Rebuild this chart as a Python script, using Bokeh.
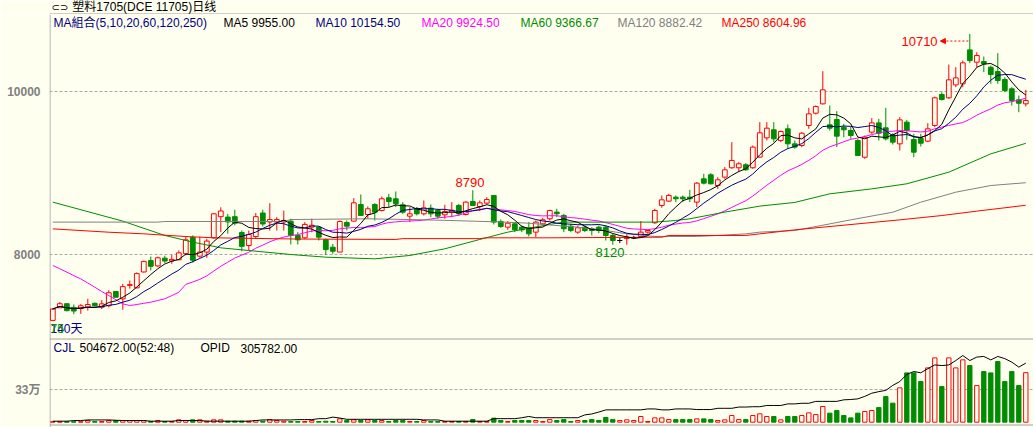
from bokeh.plotting import figure
from bokeh.layouts import column
from bokeh.models import Range1d, LinearAxis, FixedTicker, Label, Span, Grid, ColumnDataSource, Arrow, NormalHead
from bokeh.embed import file_html
from bokeh.resources import INLINE
import pandas as pd

# ---------------- data ----------------
opens = [7190, 7345, 7395, 7350, 7335, 7355, 7400, 7352, 7370, 7545,
         7455, 7620, 7590, 7785, 7925, 7860, 7955, 7920, 7935, 8010,
         8210, 7980, 8030, 8205, 8465, 8460, 8465, 8270, 8110, 8220,
         8510, 8400, 8398, 8400, 8410, 8235, 8205, 8336, 8336, 8180,
         8090, 8030, 8393, 8410, 8615, 8492, 8615, 8541, 8697, 8685,
         8611, 8471, 8566, 8500, 8570, 8541, 8488, 8520, 8603, 8492,
         8652, 8590, 8631, 8726, 8406, 8336, 8377, 8336, 8328, 8275,
         8377, 8439, 8521, 8480, 8349, 8275, 8336, 8316, 8336, 8336,
         8234, 8172, 8196, 8205, 8222, 8275, 8390, 8603, 8656, 8705,
         8705, 8705, 8644, 8930, 8980, 8848, 8951, 9066, 9066, 9103,
         9066, 9197, 9434, 9533, 9402, 9545, 9360, 9340, 9586, 9737,
         9852, 9594, 9659, 9565, 9524, 9401, 9196, 9504, 9618, 9557,
         9471, 9360, 9627, 9413, 9430, 9393, 9586, 9966, 9926, 10085,
         10098, 10515, 10364, 10372, 10302, 10249, 10151, 10036, 9901, 9852]
highs = [7340, 7415, 7400, 7385, 7390, 7455, 7410, 7440, 7560, 7550,
         7640, 7680, 7780, 7925, 7975, 7975, 7985, 7995, 8050, 8220,
         8235, 8220, 8193, 8510, 8580, 8500, 8550, 8295, 8295, 8510,
         8550, 8630, 8460, 8540, 8440, 8275, 8398, 8440, 8345, 8193,
         8130, 8418, 8418, 8693, 8738, 8590, 8631, 8713, 8746, 8775,
         8644, 8582, 8582, 8664, 8615, 8562, 8611, 8644, 8623, 8656,
         8790, 8664, 8705, 8726, 8430, 8410, 8398, 8357, 8398, 8418,
         8451, 8550, 8562, 8500, 8377, 8357, 8357, 8336, 8357, 8357,
         8254, 8205, 8254, 8230, 8410, 8303, 8562, 8726, 8746, 8726,
         8726, 8795, 8890, 8992, 9000, 8951, 9074, 9381, 9135, 9123,
         9340, 9627, 9627, 9627, 9524, 9598, 9402, 9504, 9803, 9831,
         10253, 9831, 9762, 9606, 9573, 9422, 9463, 9676, 9667, 9803,
         9491, 9688, 9655, 9483, 9483, 9614, 9942, 9995, 10335, 10302,
         10384, 10710, 10487, 10434, 10323, 10475, 10180, 10057, 9954, 10024]
lows = [7180, 7340, 7300, 7265, 7270, 7310, 7360, 7330, 7350, 7470,
        7320, 7580, 7585, 7780, 7805, 7845, 7895, 7885, 7930, 7990,
        7900, 7960, 7960, 8193, 8275, 8255, 8357, 8040, 8050, 8193,
        8345, 8295, 8295, 8295, 8123, 8123, 8193, 8275, 8172, 7995,
        8008, 8029, 8295, 8406, 8480, 8440, 8418, 8529, 8582, 8582,
        8500, 8398, 8480, 8480, 8459, 8439, 8439, 8459, 8480, 8480,
        8603, 8533, 8615, 8369, 8328, 8303, 8275, 8275, 8221, 8213,
        8369, 8418, 8459, 8275, 8275, 8254, 8275, 8234, 8262, 8172,
        8120, 8140, 8120, 8190, 8213, 8254, 8377, 8574, 8644, 8644,
        8644, 8644, 8582, 8861, 8861, 8807, 8930, 9054, 9013, 9033,
        9054, 9189, 9402, 9381, 9381, 9299, 9300, 9319, 9545, 9721,
        9844, 9524, 9320, 9442, 9422, 9217, 9176, 9483, 9401, 9401,
        9352, 9278, 9410, 9196, 9327, 9381, 9565, 9893, 9913, 10057,
        10057, 10352, 10302, 10241, 10098, 10098, 9995, 9831, 9749, 9819]
closes = [7330, 7395, 7310, 7305, 7370, 7385, 7370, 7393, 7530, 7475,
          7605, 7630, 7765, 7915, 7855, 7960, 7920, 7940, 8020, 8180,
          7930, 8030, 8165, 8500, 8535, 8400, 8385, 8100, 8245, 8465,
          8375, 8430, 8430, 8418, 8235, 8180, 8370, 8360, 8213, 8060,
          8040, 8405, 8348, 8635, 8480, 8562, 8520, 8685, 8652, 8623,
          8520, 8500, 8500, 8574, 8500, 8471, 8529, 8545, 8500, 8644,
          8603, 8635, 8676, 8398, 8344, 8385, 8303, 8303, 8254, 8398,
          8426, 8541, 8500, 8316, 8295, 8328, 8295, 8295, 8295, 8234,
          8172, 8172, 8213, 8205, 8275, 8295, 8541, 8672, 8726, 8685,
          8685, 8685, 8877, 8877, 8869, 8918, 9041, 9156, 9115, 9041,
          9320, 9496, 9553, 9422, 9512, 9361, 9320, 9491, 9729, 9819,
          10024, 9553, 9455, 9533, 9463, 9217, 9442, 9618, 9491, 9422,
          9381, 9655, 9524, 9258, 9368, 9545, 9926, 9905, 10147, 10171,
          10356, 10384, 10446, 10343, 10212, 10139, 10016, 9893, 9860, 9893]
# volume (CJL), contracts
volumes = [5000, 5000, 5000, 5000, 5000, 17000, 7000, 7000, 17000, 17000,
           17000, 17000, 17000, 17000, 7000, 17000, 7000, 7000, 24000, 17000,
           24000, 24000, 10000, 24000, 24000, 10000, 10000, 10000, 10000, 17000,
           10000, 27000, 17000, 10000, 7000, 7000, 7000, 17000, 7000, 10000,
           7000, 34000, 17000, 24000, 17000, 24000, 17000, 17000, 7000, 17000,
           17000, 7000, 7000, 17000, 7000, 7000, 7000, 7000, 7000, 7000,
           27000, 7000, 7000, 41000, 17000, 7000, 17000, 17000, 17000, 17000,
           7000, 27000, 17000, 27000, 7000, 17000, 17000, 27000, 17000, 48000,
           27000, 17000, 24000, 17000, 58000, 7000, 44000, 44000, 27000, 27000,
           27000, 27000, 34000, 34000, 27000, 17000, 24000, 68000, 27000, 27000,
           68000, 85000, 58000, 58000, 24000, 58000, 58000, 68000, 95000, 78000,
           160000, 92000, 119000, 68000, 44000, 92000, 109000, 119000, 149000, 261000,
           194000, 350000, 502000, 502000, 414000, 553000, 655000, 363000, 655000, 553000,
           635000, 577000, 373000, 516000, 502000, 618000, 414000, 516000, 373000, 504672]
# open interest (OPID)
opid = [121000, 121000, 121000, 123000, 123000, 125000, 125000, 125000, 125000, 124000,
        123000, 123000, 123000, 123000, 121000, 121000, 121000, 121000, 123000, 123000,
        123000, 123000, 121000, 121000, 121000, 121000, 121000, 121000, 121000, 123000,
        125000, 125000, 125000, 125000, 125000, 126000, 126000, 126000, 129000, 129000,
        134000, 131000, 127000, 127000, 127000, 127000, 127000, 127000, 127000, 127000,
        127000, 127000, 127000, 125000, 125000, 125000, 121000, 121000, 121000, 121000,
        121000, 121000, 121000, 129000, 129000, 129000, 129000, 132000, 136000, 132000,
        132000, 132000, 132000, 132000, 132000, 132000, 141000, 144000, 150000, 157000,
        157000, 157000, 157000, 157000, 157000, 160000, 160000, 157000, 157000, 160000,
        160000, 160000, 158000, 158000, 158000, 162000, 162000, 162000, 166000, 166000,
        167000, 167000, 171000, 171000, 171000, 176000, 176000, 178000, 178000, 184000,
        184000, 184000, 184000, 189000, 190000, 192000, 200000, 210000, 215000, 219000,
        235000, 247000, 270000, 279000, 275000, 288000, 300000, 298000, 300000, 314000,
        330000, 314000, 325000, 327000, 316000, 327000, 320000, 309000, 293000, 305782]
# MA20 for the first 19 days (needs history before the window)
ma20_head = [7865, 7825, 7783, 7740, 7700, 7650, 7598, 7545, 7495, 7445,
             7393, 7373, 7385, 7400, 7414, 7435, 7455, 7495, 7536]
# long moving averages, read at sample days
ma60_idx = [0, 10, 16, 20, 24, 28, 34, 39, 46, 51, 56, 61, 65, 71, 73, 86, 89, 91, 96, 101, 106, 111, 117, 122, 128, 134, 139]
ma60_val = [8644, 8410, 8234, 8152, 8082, 8049, 8000, 7967, 7947, 7988, 8070, 8185, 8275, 8370, 8398, 8398, 8418, 8439, 8521, 8595, 8640, 8746, 8807, 8869, 9012, 9237, 9366.67]
ma120_idx = [0, 15, 16, 33, 34, 45, 51, 56, 60, 64, 68, 70, 75, 79, 82, 86, 92, 95, 99, 101, 106, 110, 114, 120, 124, 129, 134, 139]
ma120_val = [8398, 8398, 8406, 8406, 8430, 8439, 8430, 8420, 8410, 8400, 8385, 8370, 8336, 8295, 8254, 8222, 8222, 8234, 8254, 8275, 8295, 8360, 8426, 8520, 8643, 8766, 8848, 8882.42]
ma250_idx = [0, 8, 13, 19, 23, 35, 49, 50, 61, 62, 71, 87, 88, 99, 101, 104, 106, 121, 127, 132, 139]
ma250_val = [8315, 8274, 8254, 8221, 8205, 8190, 8185, 8195, 8195, 8205, 8205, 8213, 8234, 8234, 8254, 8283, 8303, 8426, 8479, 8533, 8604.96]

title_text = "塑料1705(DCE 11705)日线"
legend_items = [("MA組合(5,10,20,60,120,250)", "#000080"), ("MA5 9955.00", "#000000"),
                ("MA10 10154.50", "#000080"), ("MA20 9924.50", "#FF00FF"),
                ("MA60 9366.67", "#008C00"), ("MA120 8882.42", "#808080"),
                ("MA250 8604.96", "#FF0000")]
price_ticks = [8000, 10000]
vol_tick = 330000
vol_tick_label = "33万"

# ---------------- layout helpers ----------------
BG = "#FFFFF0"
RED = "#FF0000"
GREEN = "#008C00"
FONT = "Liberation Sans, Noto Sans CJK SC"
W = 1033
HEAD_H = 14
H = 427 - HEAD_H
LEFT = 49
FW = W - LEFT
BAR_PX = 7.0
X0_PX = 3.3
x_start = -X0_PX / BAR_PX
x_end = x_start + FW / BAR_PX

PY_REF, PY_SCALE = 77.3, 0.08135         # figure px of 10000, px per price unit
def price_at(fy):
    return 10000 - (fy - PY_REF) / PY_SCALE
VOL_BASE, VOL_PER_PX = 407.7, 10185.0
def vol_at(fy):
    return (VOL_BASE - fy) * VOL_PER_PX
def vol_fy(v):
    return VOL_BASE - v / VOL_PER_PX
OI_BASE, OI_MIN, OI_PER_PX = 407.0, 120000.0, 3182.0
def oi_at(fy):
    return OI_MIN + (OI_BASE - fy) * OI_PER_PX
def X(fx):
    return x_start + (fx - LEFT) / BAR_PX

n = len(closes)
idx = list(range(n))
cs = pd.Series(closes, dtype=float)
ma5 = cs.rolling(5, min_periods=1).mean().tolist()
ma10 = cs.rolling(10, min_periods=1).mean().tolist()
ma20 = cs.rolling(20).mean().tolist()
ma20[:len(ma20_head)] = ma20_head

col, fill, vcol, vfill = [], [], [], []
for o, c in zip(opens, closes):
    if c > o:
        col.append(RED); fill.append(BG); vcol.append(RED); vfill.append(BG)
    elif c < o:
        col.append(GREEN); fill.append(GREEN); vcol.append(GREEN); vfill.append(GREEN)
    else:
        col.append("#000000"); fill.append("#000000"); vcol.append(RED); vfill.append(BG)

src = ColumnDataSource(dict(i=idx, o=opens, h=highs, l=lows, c=closes,
                            top=[max(a, b) for a, b in zip(opens, closes)],
                            bot=[min(a, b) for a, b in zip(opens, closes)],
                            col=col, fill=fill, vol=volumes, vcol=vcol, vfill=vfill,
                            oi=opid, ma5=ma5, ma10=ma10, ma20=ma20))

# ---------------- header strip ----------------
hd = figure(width=W, height=HEAD_H, x_range=Range1d(0, W), y_range=Range1d(HEAD_H, 0),
            output_backend="svg", toolbar_location=None, x_axis_location=None, y_axis_location=None,
            min_border_left=0, min_border_right=0, min_border_top=0, min_border_bottom=0,
            background_fill_color=BG, border_fill_color=BG, outline_line_color=None)
hd.xgrid.visible = False
hd.ygrid.visible = False
hd.add_layout(Span(location=HEAD_H - 0.5, dimension="width", line_color="#A0A0A0", line_width=1))
hd.add_layout(Label(x=2, y=7, text="⊂⊃", text_color="#000000", text_font="DejaVu Sans",
                    text_font_size="10px", text_baseline="middle"))
hd.add_layout(Label(x=24, y=6.5, text=title_text, text_color="#000000", text_font=FONT,
                    text_font_size="12px", text_baseline="middle"))

# ---------------- main + volume panes ----------------
p = figure(width=W, height=H, x_range=Range1d(x_start, x_end),
           y_range=Range1d(price_at(H), price_at(0)),
           output_backend="svg", toolbar_location=None,
           x_axis_location=None, y_axis_location=None,
           min_border_left=LEFT, min_border_right=0, min_border_top=0, min_border_bottom=0,
           background_fill_color=BG, border_fill_color=BG, outline_line_color=None)
p.xgrid.visible = False
p.ygrid.visible = False
p.extra_y_ranges = {"vol": Range1d(vol_at(H), vol_at(0)), "oi": Range1d(oi_at(H), oi_at(0))}

t33 = int(round(price_at(vol_fy(vol_tick))))
ticks = [t33] + price_ticks
ax = LinearAxis(ticker=FixedTicker(ticks=ticks),
                major_label_overrides={t33: vol_tick_label, 8000: "8000", 10000: "10000"})
ax.axis_line_color = None
ax.major_tick_line_color = None
ax.minor_tick_line_color = None
ax.major_label_text_color = "#808080"
ax.major_label_text_font = FONT
ax.major_label_text_font_style = "bold"
ax.major_label_text_font_size = "12px"
ax.major_label_standoff = 3
p.add_layout(ax, "left")
p.add_layout(Grid(dimension=1, ticker=FixedTicker(ticks=ticks), grid_line_color="#A8A8A8",
                  grid_line_dash="3 2"))

# separators
for fy in (324.5, 410.5):
    p.add_layout(Span(location=price_at(fy), dimension="width", line_color="#A0A0A0", line_width=1))
p.segment(x0=[X(LEFT + 0.5)], y0=[price_at(0)], x1=[X(LEFT + 0.5)], y1=[price_at(H)],
          line_color="#A0A0A0", line_width=1)

# candles
p.segment(x0="i", y0="l", x1="i", y1="h", line_color="col", line_width=1, source=src)
p.vbar(x="i", width=0.68, top="top", bottom="bot", fill_color="fill", line_color="col",
       line_width=1, source=src)

# moving averages
p.line("i", "ma20", line_color="#FF00FF", line_width=1, source=src)
p.line(ma60_idx, ma60_val, line_color="#008C00", line_width=1)
p.line(ma120_idx, ma120_val, line_color="#808080", line_width=1)
p.line(ma250_idx, ma250_val, line_color="#FF0000", line_width=1)
p.line("i", "ma10", line_color="#000080", line_width=1, source=src)
p.line("i", "ma5", line_color="#000000", line_width=1, source=src)

# volume + open interest
p.vbar(x="i", width=0.62, top="vol", bottom=0, fill_color="vfill", line_color="vcol",
       line_width=1, source=src, y_range_name="vol")
p.line("i", "oi", line_color="#000000", line_width=1, source=src, y_range_name="oi")

def lab(fx, fy, text, color, size="12px", align="left", style="normal"):
    p.add_layout(Label(x=X(fx), y=price_at(fy), text=text, text_color=color, text_font=FONT,
                       text_font_size=size, text_align=align, text_baseline="middle",
                       text_font_style=style))

legend_x = [53, 223, 315, 421, 520, 617, 721]
for (t, c), fx in zip(legend_items, legend_x):
    lab(fx, 8.5, t, c)
lab(50, 314, "140天", "#000080")
lab(50, 314, "75", GREEN)
lab(53, 333.5, "CJL", "#000080")
lab(79, 333.5, "504672.00(52:48)", "#000000")
lab(200, 333.5, "OPID", "#000000")
lab(240, 333.5, "305782.00", "#000000")

# price marks
imax = max(range(n), key=lambda k: highs[k])
imin = min(range(50, 100), key=lambda k: lows[k])
p.add_layout(Label(x=60 - 0.4, y=highs[60], text=str(highs[60]), text_color=RED, text_font=FONT,
                   text_font_size="13px", text_align="center", text_baseline="bottom", y_offset=3))
p.add_layout(Label(x=imin - 0.4, y=lows[imin], text=str(lows[imin]), text_color=GREEN, text_font=FONT,
                   text_font_size="13px", text_align="center", text_baseline="top", y_offset=-3))
p.add_layout(Label(x=imax - 4.6, y=highs[imax], text=str(highs[imax]), text_color=RED, text_font=FONT,
                   text_font_size="13px", text_align="right", text_baseline="middle", y_offset=-7))
p.add_layout(Arrow(x_start=imax - 0.2, y_start=highs[imax] - 7 / PY_SCALE, x_end=imax - 4.2,
                   y_end=highs[imax] - 7 / PY_SCALE, line_color=RED, line_width=1, line_dash="2 2",
                   end=NormalHead(size=5, fill_color=RED, line_color=RED)))

layout = column(hd, p, spacing=0)
open("out.html", "w").write(file_html(layout, INLINE))
